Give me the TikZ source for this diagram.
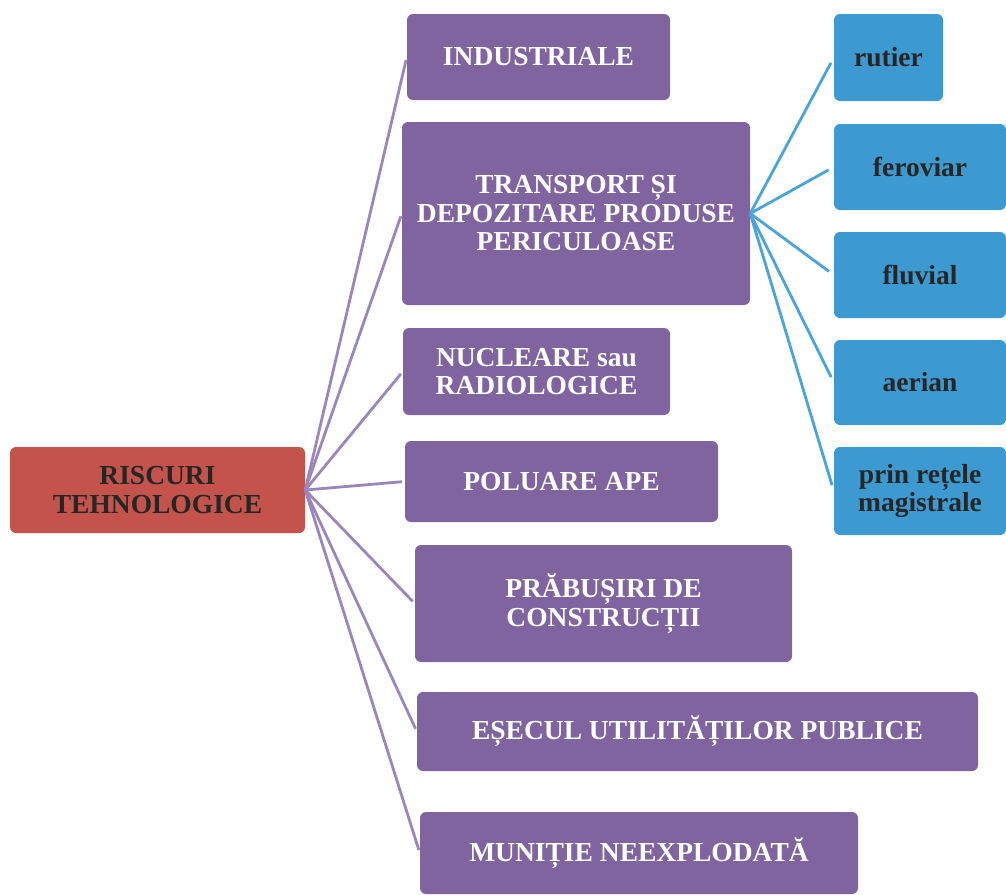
\documentclass[tikz,border=0pt]{standalone}
\usepackage{fontspec}
\setmainfont{Liberation Serif}
\definecolor{redbox}{HTML}{C4534B}
\definecolor{purplebox}{HTML}{8064A0}
\definecolor{purpleline}{HTML}{9A86BC}
\definecolor{bluebox}{HTML}{3C9AD0}
\definecolor{blueline}{HTML}{4AA4DC}
\definecolor{darktext}{HTML}{262626}
\begin{document}
\begin{tikzpicture}[x=1pt,y=-1pt,
  box/.style={rounded corners=6pt, inner sep=0pt, align=center,
    font=\fontsize{27.5}{28.5}\selectfont\bfseries},
  rootbox/.style={box, fill=redbox, text=darktext},
  catbox/.style={box, fill=purplebox, text=white},
  subbox/.style={box, fill=bluebox, text=darktext},
  plink/.style={draw=purpleline, line width=2.8pt, shorten >=3pt},
  blink/.style={draw=blueline, line width=2.8pt, shorten >=6pt}]
\useasboundingbox (0,0) rectangle (1006,894);
\node[rootbox, minimum width=295pt, minimum height=86pt] (risc) at (157.5,490) {RISCURI\\TEHNOLOGICE};
\node[catbox, minimum width=263pt, minimum height=86pt] (ind) at (538.5,57) {INDUSTRIALE};
\node[catbox, minimum width=348pt, minimum height=183pt] (trans) at (576,213.5) {TRANSPORT ȘI\\DEPOZITARE PRODUSE\\PERICULOASE};
\node[catbox, minimum width=267pt, minimum height=87pt] (nucl) at (536.5,371.5) {NUCLEARE sau\\RADIOLOGICE};
\node[catbox, minimum width=313pt, minimum height=81pt] (pol) at (561.5,481.5) {POLUARE APE};
\node[catbox, minimum width=377pt, minimum height=117pt] (prab) at (603.5,603.5) {PRĂBUȘIRI DE\\CONSTRUCȚII};
\node[catbox, minimum width=561pt, minimum height=79pt] (esec) at (697.5,731.5) {EȘECUL UTILITĂȚILOR PUBLICE};
\node[catbox, minimum width=438pt, minimum height=82pt] (mun) at (639,853) {MUNIȚIE NEEXPLODATĂ};
\node[subbox, minimum width=109pt, minimum height=87pt] (rut) at (888.5,57.5) {rutier};
\node[subbox, minimum width=172pt, minimum height=86pt] (fer) at (920,167) {feroviar};
\node[subbox, minimum width=172pt, minimum height=86pt] (flu) at (920,275) {fluvial};
\node[subbox, minimum width=172pt, minimum height=85pt] (aer) at (920,382.5) {aerian};
\node[subbox, minimum width=172pt, minimum height=88pt] (prin) at (920,491) {prin rețele\\magistrale};
\foreach \t in {ind,trans,nucl,pol,prab,esec,mun}
  \draw[plink] (risc.east) -- (\t.west);
\foreach \t in {rut,fer,flu,aer,prin}
  \draw[blink] (trans.east) -- (\t.west);
\end{tikzpicture}
\end{document}
